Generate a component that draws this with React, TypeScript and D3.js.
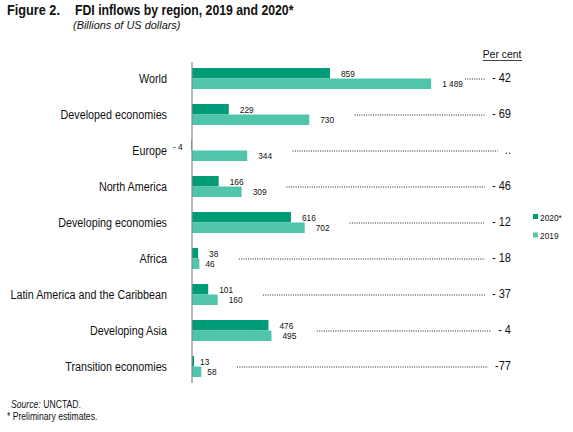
import React, { useEffect, useRef } from "react";
import * as d3 from "d3";

const categories = [
  "World",
  "Developed economies",
  "Europe",
  "North America",
  "Developing economies",
  "Africa",
  "Latin America and the Caribbean",
  "Developing Asia",
  "Transition economies",
];
const values2020 = [859, 229, -4, 166, 616, 38, 101, 476, 13];
const values2019 = [1489, 730, 344, 309, 702, 46, 160, 495, 58];
const labels2020 = ["859", "229", "- 4", "166", "616", "38", "101", "476", "13"];
const labels2019 = ["1 489", "730", "344", "309", "702", "46", "160", "495", "58"];
const percentChange = ["- 42", "- 69", "..", "- 46", "- 12", "- 18", "- 37", "- 4", "-77"];
const seriesNames = ["2020*", "2019"];

const W = 573;
const H = 432;
const FONT = "'Liberation Sans', Arial, sans-serif";
const C2020 = "#009b77";
const C2019 = "#50c5a9";

function condense(sel: any, ratio: number) {
  const node = sel.node() as SVGTextElement;
  const len = node.getComputedTextLength();
  sel.attr("textLength", len * ratio).attr("lengthAdjust", "spacingAndGlyphs");
  return sel;
}

export default function App() {
  const ref = useRef<SVGSVGElement>(null);

  useEffect(() => {
    const svg = d3.select(ref.current);
    svg.selectAll("*").remove();

    const x = d3.scaleLinear().domain([0, 1600]).range([192, 192 + 1600 * 0.1606]);
    const y = d3.scaleBand<string>().domain(categories).range([60.5, 60.5 + 36 * categories.length]).padding(0);
    const bh = 10.5;
    const pctRight = 511;

    // Title
    condense(svg.append("text").attr("x", 7).attr("y", 15).attr("font-family", FONT).attr("font-size", 15.5)
      .attr("font-weight", "bold").attr("fill", "#111").text("Figure 2."), 0.82);
    condense(svg.append("text").attr("x", 75).attr("y", 15).attr("font-family", FONT).attr("font-size", 15.5)
      .attr("font-weight", "bold").attr("fill", "#111").text("FDI inflows by region, 2019 and 2020*"), 0.79);
    condense(svg.append("text").attr("x", 73).attr("y", 29).attr("font-family", FONT).attr("font-size", 11.5)
      .attr("font-style", "italic").attr("fill", "#111").text("(Billions of US dollars)"), 0.95);

    // Per cent header
    const pc = svg.append("text").attr("x", 502).attr("y", 58).attr("text-anchor", "middle")
      .attr("font-family", FONT).attr("font-size", 11.5).attr("fill", "#111").text("Per cent");
    condense(pc, 0.9);
    const pcb = (pc.node() as SVGTextElement).getBBox();
    svg.append("line").attr("x1", pcb.x).attr("x2", pcb.x + pcb.width).attr("y1", 60.5).attr("y2", 60.5)
      .attr("stroke", "#111").attr("stroke-width", 0.8);

    const g = svg.append("g");
    categories.forEach((c, i) => {
      const y0 = y(c)!;
      const cy = y0 + y.bandwidth() / 2;
      // category label
      condense(g.append("text").attr("x", 167).attr("y", cy + 4).attr("text-anchor", "end")
        .attr("font-family", FONT).attr("font-size", 12.5).attr("fill", "#111").text(c), 0.86);

      // bars
      const v20 = values2020[i];
      const v19 = values2019[i];
      g.append("rect").attr("x", x(Math.min(0, v20))).attr("width", Math.abs(x(v20) - x(0)))
        .attr("y", cy - bh).attr("height", bh).attr("fill", C2020);
      g.append("rect").attr("x", x(Math.min(0, v19))).attr("width", Math.abs(x(v19) - x(0)))
        .attr("y", cy).attr("height", bh).attr("fill", C2019);

      // value labels
      let maxEnd = 0;
      if (v20 >= 0) {
        const gap = x(v20) - x(0) < 5 ? 6 : 11;
        const t = g.append("text").attr("x", x(v20) + gap).attr("y", cy - 2)
          .attr("font-family", FONT).attr("font-size", 9.8).attr("fill", "#111").text(labels2020[i]);
        condense(t, 0.85);
        const b = (t.node() as SVGTextElement).getBBox();
        maxEnd = Math.max(maxEnd, b.x + b.width);
      } else {
        condense(g.append("text").attr("x", 173).attr("y", cy - 1)
          .attr("font-family", FONT).attr("font-size", 9.8).attr("fill", "#111").text(labels2020[i]), 0.85);
      }
      {
        const gap = x(v19) - x(0) < 12 ? 6 : 11;
        const t = g.append("text").attr("x", x(v19) + gap).attr("y", cy + 8.5)
          .attr("font-family", FONT).attr("font-size", 9.8).attr("fill", "#111").text(labels2019[i]);
        condense(t, 0.85);
        const b = (t.node() as SVGTextElement).getBBox();
        maxEnd = Math.max(maxEnd, b.x + b.width);
      }

      // percent
      const p = g.append("text").attr("x", pctRight).attr("y", cy + 3).attr("text-anchor", "end")
        .attr("font-family", FONT).attr("font-size", 12.8).attr("fill", "#111").text(percentChange[i]);
      condense(p, 0.86);
      const pb = (p.node() as SVGTextElement).getBBox();
      const dotEnd = pb.x - 7;
      const dotStart = Math.min(maxEnd + 20, dotEnd - 20);
      g.append("line").attr("x1", dotStart).attr("x2", dotEnd).attr("y1", cy + 0.5).attr("y2", cy + 0.5)
        .attr("stroke", "#222").attr("stroke-width", 1).attr("stroke-dasharray", "1 1.3");
    });

    // axis line
    svg.append("line").attr("x1", x(0)).attr("x2", x(0)).attr("y1", 62).attr("y2", 383)
      .attr("stroke", "#888").attr("stroke-width", 1.2);

    // legend
    const lg = svg.append("g");
    [C2020, C2019].forEach((col, i) => {
      const ly = 214 + i * 18.5;
      lg.append("rect").attr("x", 533).attr("y", ly).attr("width", 5).attr("height", 5).attr("fill", col);
      condense(lg.append("text").attr("x", 540).attr("y", ly + 6.5).attr("font-family", FONT).attr("font-size", 9.8)
        .attr("fill", "#111").text(seriesNames[i]), 0.85);
    });

    // footnotes
    const s1 = svg.append("text").attr("x", 11).attr("y", 408).attr("font-family", FONT).attr("font-size", 10)
      .attr("font-style", "italic").attr("fill", "#111").text("Source:");
    condense(s1, 0.86);
    const sb = (s1.node() as SVGTextElement).getBBox();
    condense(svg.append("text").attr("x", sb.x + sb.width + 2.5).attr("y", 408).attr("font-family", FONT)
      .attr("font-size", 10).attr("fill", "#111").text("UNCTAD."), 0.86);
    condense(svg.append("text").attr("x", 7).attr("y", 420).attr("font-family", FONT).attr("font-size", 10)
      .attr("fill", "#111").text("* Preliminary estimates."), 0.86);
  }, []);

  return (
    <svg ref={ref} width={W} height={H} style={{ position: "absolute", left: 0, top: 0, background: "#fff" }} />
  );
}
